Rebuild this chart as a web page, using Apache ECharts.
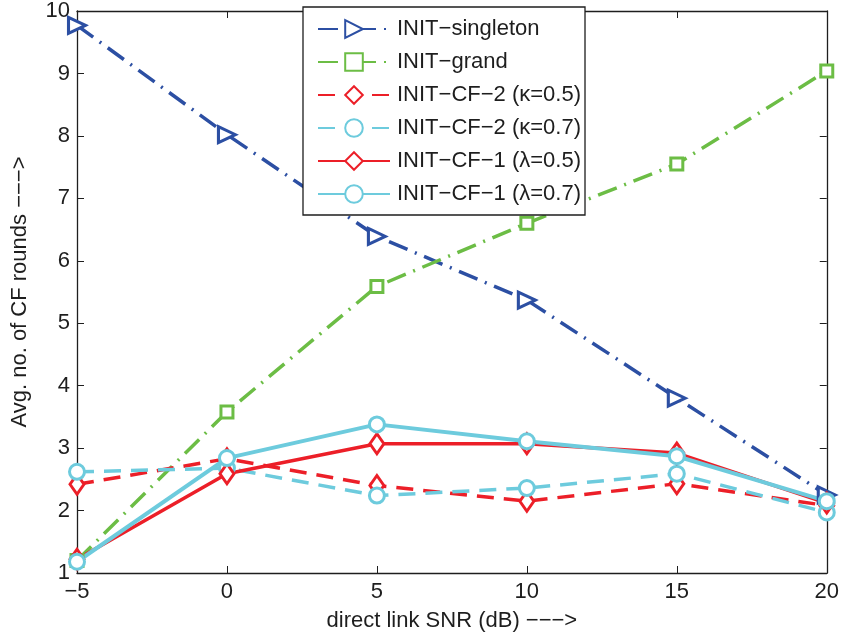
<!DOCTYPE html>
<html>
<head>
<meta charset="utf-8">
<script src="https://cdn.jsdelivr.net/npm/echarts@6/dist/echarts.min.js"></script>
<style>
  html, body { margin: 0; padding: 0; background: #fff; }
  #chart { width: 842px; height: 641px; }
</style>
</head>
<body>
<div id="chart"></div>
<script>
// direct link SNR (dB)
const snr = [-5, 0, 5, 10, 15, 20];

// average number of CF rounds per initialisation scheme
const initSingleton = [9.77, 8.02, 6.39, 5.37, 3.80, 2.25];
const initGrand     = [1.20, 3.58, 5.59, 6.60, 7.55, 9.04];
const cf2Kappa05    = [2.42, 2.83, 2.40, 2.15, 2.43, 2.08];
const cf2Kappa07    = [2.62, 2.68, 2.24, 2.36, 2.59, 1.97];
const cf1Lambda05   = [1.22, 2.59, 3.07, 3.07, 2.92, 2.12];
const cf1Lambda07   = [1.18, 2.84, 3.38, 3.11, 2.87, 2.15];

const BLUE = '#2c4fa3', GREEN = '#6cbd45', RED = '#ec1f28', CYAN = '#6dcbdd';
const FONT = '"Liberation Sans", Arial, Helvetica, sans-serif';
const INK = '#1e1e1e';
const FS = 22;

function pairs(ys) { return snr.map((x, i) => [x, ys[i]]); }

function makeSeries(name, ys, color, dash, symbol, size, rotate, width) {
  return {
    name: name,
    type: 'line',
    data: pairs(ys),
    symbol: symbol,
    symbolSize: size,
    symbolRotate: rotate,
    showAllSymbol: true,
    lineStyle: { color: color, width: width, type: dash },
    itemStyle: { color: '#fff', borderColor: color, borderWidth: 3 },
    emphasis: { disabled: true },
    z: 3
  };
}

const dashDot = [20, 8, 2, 8];
const dashed = [17, 10];

const series = [
  makeSeries('INIT\u2212singleton', initSingleton, BLUE, dashDot, 'triangle', [16, 17], -90, 3.5),
  makeSeries('INIT\u2212grand', initGrand, GREEN, dashDot, 'rect', 12, 0, 3.5),
  makeSeries('INIT\u2212CF\u22122 (\u03ba=0.5)', cf2Kappa05, RED, dashed, 'diamond', [14, 20], 0, 3.5),
  makeSeries('INIT\u2212CF\u22122 (\u03ba=0.7)', cf2Kappa07, CYAN, dashed, 'circle', 15, 0, 3.5),
  makeSeries('INIT\u2212CF\u22121 (\u03bb=0.5)', cf1Lambda05, RED, 'solid', 'diamond', [14, 20], 0, 3.5),
  makeSeries('INIT\u2212CF\u22121 (\u03bb=0.7)', cf1Lambda07, CYAN, 'solid', 'circle', 15, 0, 4)
];

const minusFmt = v => String(v).replace('-', '\u2212');

const chart = echarts.init(document.getElementById('chart'), null, { renderer: 'canvas' });
chart.setOption({
  animation: false,
  backgroundColor: '#fff',
  grid: { left: 77, right: 15, top: 8, bottom: 68, containLabel: false },
  legend: {
    orient: 'vertical',
    left: 303,
    top: 7,
    padding: [11, 4, 10, 14],
    itemGap: 11,
    itemWidth: 72,
    itemHeight: 22,
    backgroundColor: '#fff',
    borderColor: INK,
    borderWidth: 1.3,
    borderRadius: 0,
    textStyle: { fontFamily: FONT, fontSize: FS, color: INK, padding: [0, 0, 0, 2] },
    data: series.map(s => s.name)
  },
  xAxis: [
    {
      type: 'value', min: -5, max: 20, interval: 5,
      name: 'direct link SNR (dB) \u2212\u2212\u2212>',
      nameLocation: 'middle', nameGap: 37,
      nameTextStyle: { fontFamily: FONT, fontSize: FS, color: INK },
      axisLine: { show: true, onZero: false, lineStyle: { color: INK, width: 1.3 } },
      axisTick: { show: true, inside: true, length: 7, lineStyle: { color: INK } },
      axisLabel: { fontFamily: FONT, fontSize: FS, color: INK, margin: 8, formatter: minusFmt },
      splitLine: { show: false }
    },
    {
      type: 'value', min: -5, max: 20, interval: 5, position: 'top',
      axisLine: { show: true, onZero: false, lineStyle: { color: INK, width: 1.3 } },
      axisTick: { show: true, inside: true, length: 7, lineStyle: { color: INK } },
      axisLabel: { show: false },
      splitLine: { show: false }
    }
  ],
  yAxis: [
    {
      type: 'value', min: 1, max: 10, interval: 1,
      name: 'Avg. no. of CF rounds \u2212\u2212\u2212>',
      nameLocation: 'middle', nameGap: 46, nameRotate: 90,
      nameTextStyle: { fontFamily: FONT, fontSize: FS, color: INK },
      axisLine: { show: true, onZero: false, lineStyle: { color: INK, width: 1.3 } },
      axisTick: { show: true, inside: true, length: 7, lineStyle: { color: INK } },
      axisLabel: { fontFamily: FONT, fontSize: FS, color: INK, margin: 7 },
      splitLine: { show: false }
    },
    {
      type: 'value', min: 1, max: 10, interval: 1, position: 'right',
      axisLine: { show: true, onZero: false, lineStyle: { color: INK, width: 1.3 } },
      axisTick: { show: true, inside: true, length: 7, lineStyle: { color: INK } },
      axisLabel: { show: false },
      splitLine: { show: false }
    }
  ],
  series: series
});
</script>
</body>
</html>
